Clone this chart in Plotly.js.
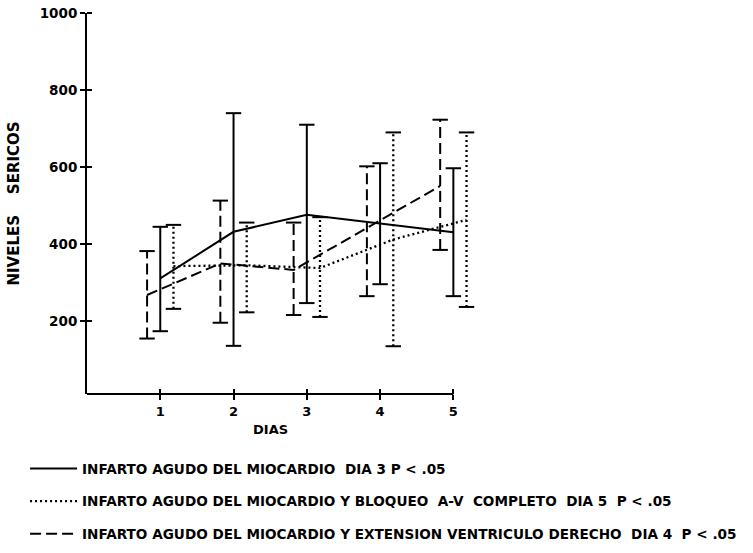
<!DOCTYPE html>
<html>
<head>
<meta charset="utf-8">
<script src="https://cdn.plot.ly/plotly-3.0.1.min.js"></script>
<style>html,body{margin:0;padding:0;background:#fff;}</style>
</head>
<body>
<div id="chart" style="width:753px;height:553px;"></div>
<script>
// ---- data ----
const days = [1, 2, 3, 4, 5];

// Infarto agudo del miocardio (solid)
const iamMean = [311, 432, 476, 454, 431];
const iamHigh = [445, 740, 710, 610, 597];
const iamLow  = [174, 136, 247, 296, 265];

// Infarto + bloqueo A-V completo (dotted), drawn slightly right of each day
const bavOffset = 0.18;
const bavMean = [343, 345, 338, 412, 463];
const bavHigh = [450, 456, 470, 690, 690];
const bavLow  = [232, 223, 211, 135, 237];

// Infarto + extension ventriculo derecho (dashed), drawn slightly left of each day
const evdOffset = -0.18;
const evdMean = [268, 350, 333, 442, 551];
const evdHigh = [382, 513, 456, 602, 723];
const evdLow  = [155, 196, 216, 265, 385];

const yTicks = [200, 400, 600, 800, 1000];
const xTicks = [1, 2, 3, 4, 5];

const names = [
  'INFARTO AGUDO DEL MIOCARDIO\u00a0\u00a0DIA 3 P < .05',
  'INFARTO AGUDO DEL MIOCARDIO Y BLOQUEO\u00a0\u00a0A-V\u00a0\u00a0COMPLETO\u00a0\u00a0DIA 5\u00a0\u00a0P < .05',
  'INFARTO AGUDO DEL MIOCARDIO Y EXTENSION VENTRICULO DERECHO\u00a0\u00a0DIA 4\u00a0\u00a0P < .05'
];

// ---- build traces ----
const FONT = 'DejaVu Sans, Arial, sans-serif';
const series = [
  {mean: iamMean, hi: iamHigh, lo: iamLow, off: 0, dash: 'solid', width: 2, name: names[0]},
  {mean: bavMean, hi: bavHigh, lo: bavLow, off: bavOffset, dash: '2px,3px', width: 2.3, name: names[1]},
  {mean: evdMean, hi: evdHigh, lo: evdLow, off: evdOffset, dash: '11px,5px', width: 2, name: names[2]}
];

const traces = [];
series.forEach((s, i) => {
  const xs = days.map(d => d + s.off);
  const ex = [], ey = [];
  xs.forEach((x, k) => { ex.push(x, x, null); ey.push(s.lo[k], s.hi[k], null); });
  traces.push({
    x: ex, y: ey, mode: 'lines', type: 'scatter', showlegend: false, hoverinfo: 'skip',
    line: {color: '#000', width: s.width, dash: s.dash}
  });
  traces.push({
    x: xs.concat(xs), y: s.hi.concat(s.lo), mode: 'markers', type: 'scatter',
    showlegend: false, hoverinfo: 'skip',
    marker: {symbol: 'line-ew', size: 11, color: '#000', line: {color: '#000', width: 2}}
  });
  traces.push({
    x: xs, y: s.mean, mode: 'lines', type: 'scatter', name: s.name,
    legendgroup: 'g' + i,
    line: {color: '#000', width: s.width, dash: s.dash}
  });
});

const xMax = 5.35;
const layout = {
  width: 753, height: 553,
  margin: {l: 87, r: 274, t: 13, b: 159, autoexpand: false},
  paper_bgcolor: '#fff', plot_bgcolor: '#fff',
  font: {family: FONT, color: '#000', size: 13, weight: 'bold'},
  showlegend: true,
  legend: {
    x: -0.158, xanchor: 'left', y: -0.155, yanchor: 'top',
    font: {family: FONT, size: 13.6, color: '#000', weight: 'bold'},
    tracegroupgap: 12, itemwidth: 47, bgcolor: 'rgba(0,0,0,0)'
  },
  shapes: [{
    type: 'line', xref: 'x', yref: 'paper', x0: 0, x1: 5, y0: 0, y1: 0,
    line: {color: '#000', width: 2}
  }],
  annotations: [{
    text: 'DIAS', xref: 'x', x: 2.5, yref: 'paper', y: -0.092,
    xanchor: 'center', yanchor: 'middle', showarrow: false,
    font: {family: FONT, size: 13, weight: 'bold', color: '#000'}
  }],
  xaxis: {
    range: [0, xMax], showgrid: false, zeroline: false, showline: false,
    tickmode: 'array', tickvals: xTicks, ticktext: xTicks.map(String),
    ticks: 'outside', ticklen: 5, tickwidth: 2, tickcolor: '#000',
    minor: {tickmode: 'array', tickvals: xTicks, ticks: 'inside', ticklen: 5, tickwidth: 2, tickcolor: '#000', showgrid: false},
    tickfont: {family: FONT, size: 13, weight: 'bold'}
  },
  yaxis: {
    range: [11, 1000], showgrid: false, zeroline: false,
    showline: true, linecolor: '#000', linewidth: 2,
    tickmode: 'array', tickvals: yTicks, ticktext: yTicks.map(String),
    ticks: 'outside', ticklen: 5, tickwidth: 2, tickcolor: '#000',
    minor: {tickmode: 'array', tickvals: yTicks, ticks: 'inside', ticklen: 5, tickwidth: 2, tickcolor: '#000', showgrid: false},
    tickfont: {family: FONT, size: 13.5, weight: 'bold'},
    title: {text: 'NIVELES\u00a0\u00a0\u00a0\u00a0SERICOS', standoff: 16, font: {family: FONT, size: 15, weight: 'bold'}}
  }
};

Plotly.newPlot('chart', traces, layout, {staticPlot: true, displayModeBar: false});
</script>
</body>
</html>
